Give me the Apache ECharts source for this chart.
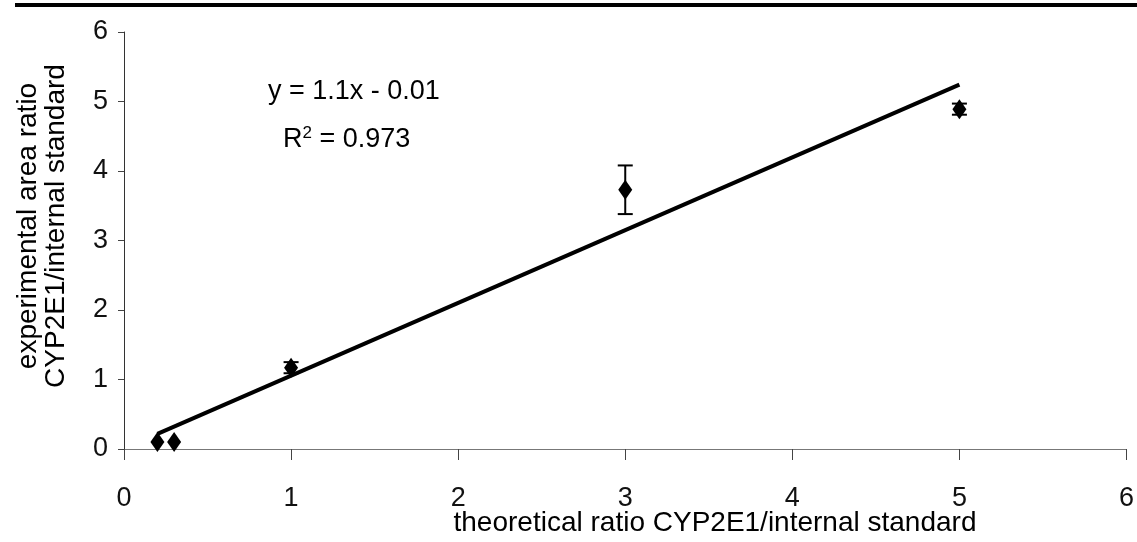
<!DOCTYPE html>
<html>
<head>
<meta charset="utf-8">
<script src="https://cdn.jsdelivr.net/npm/echarts@6/dist/echarts.min.js"></script>
<style>
  html, body { margin: 0; padding: 0; background: #fff; }
  #chart { width: 1137px; height: 542px; }
</style>
</head>
<body>
<div id="chart"></div>
<script>
// Theoretical vs. measured CYP2E1 / internal standard ratios
const theoretical = [0.2, 0.3, 1, 3, 5];
const measured = [0.10, 0.10, 1.17, 3.73, 4.89];
const errorHalf = [0, 0, 0.08, 0.35, 0.08];
const xTicks = [0, 1, 2, 3, 4, 5, 6];
const yTicks = [0, 1, 2, 3, 4, 5, 6];
const equationText = 'y = 1.1x - 0.01';
const r2Text = '0.973';
const xTitle = 'theoretical ratio CYP2E1/internal standard';
const yTitleLines = ['experimental area ratio', 'CYP2E1/internal standard'];

const FONT = '"Liberation Sans", Arial, sans-serif';

// least-squares fit used for the trendline
function linearFit(xs, ys) {
  const n = xs.length;
  const mx = xs.reduce((a, b) => a + b, 0) / n;
  const my = ys.reduce((a, b) => a + b, 0) / n;
  let sxy = 0, sxx = 0;
  for (let i = 0; i < n; i++) {
    sxy += (xs[i] - mx) * (ys[i] - my);
    sxx += (xs[i] - mx) * (xs[i] - mx);
  }
  const slope = sxy / sxx;
  return { slope, intercept: my - slope * mx };
}
const fit = linearFit(theoretical, measured);
const xMinData = Math.min(...theoretical);
const xMaxData = Math.max(...theoretical);
const trend = [
  [xMinData, fit.slope * xMinData + fit.intercept],
  [xMaxData, fit.slope * xMaxData + fit.intercept]
];

const points = theoretical.map((x, i) => [x, measured[i]]);
const bars = theoretical.map((x, i) => [x, measured[i] - errorHalf[i], measured[i] + errorHalf[i]]);

const chart = echarts.init(document.getElementById('chart'));
chart.setOption({
  animation: false,
  backgroundColor: '#fff',
  grid: { left: 124, right: 10, top: 32, bottom: 93 },
  xAxis: {
    type: 'value',
    min: xTicks[0], max: xTicks[xTicks.length - 1], interval: 1,
    splitLine: { show: false },
    axisLine: { show: true, onZero: false, lineStyle: { color: '#777', width: 1 } },
    axisTick: { show: true, length: 11, lineStyle: { color: '#444', width: 1 } },
    axisLabel: { fontFamily: FONT, fontSize: 27, color: '#111', margin: 36 }
  },
  yAxis: {
    type: 'value',
    min: yTicks[0], max: yTicks[yTicks.length - 1], interval: 1,
    splitLine: { show: false },
    axisLine: { show: true, onZero: false, lineStyle: { color: '#333', width: 1 } },
    axisTick: { show: true, length: 6, lineStyle: { color: '#444', width: 1 } },
    axisLabel: { fontFamily: FONT, fontSize: 27, color: '#111', margin: 16 }
  },
  series: [
    {
      type: 'line',
      data: trend,
      symbol: 'none',
      lineStyle: { color: '#000', width: 4 },
      z: 2
    },
    {
      type: 'custom',
      data: bars,
      z: 3,
      renderItem: function (params, api) {
        const x = api.value(0);
        const lo = api.coord([x, api.value(1)]);
        const hi = api.coord([x, api.value(2)]);
        const cap = 7.5;
        if (Math.abs(hi[1] - lo[1]) < 0.5) return null;
        const style = { stroke: '#000', lineWidth: 2 };
        return {
          type: 'group',
          children: [
            { type: 'line', shape: { x1: lo[0], y1: lo[1], x2: hi[0], y2: hi[1] }, style },
            { type: 'line', shape: { x1: lo[0] - cap, y1: lo[1], x2: lo[0] + cap, y2: lo[1] }, style },
            { type: 'line', shape: { x1: hi[0] - cap, y1: hi[1], x2: hi[0] + cap, y2: hi[1] }, style }
          ]
        };
      }
    },
    {
      type: 'scatter',
      data: points,
      symbol: 'diamond',
      symbolSize: [14, 20],
      itemStyle: { color: '#000', opacity: 1 },
      z: 4
    }
  ],
  graphic: [
    { type: 'rect', left: 15, top: 3, shape: { width: 1122, height: 4 }, style: { fill: '#000' } },
    {
      type: 'text', left: 268, top: 78,
      style: { text: equationText, font: '27px ' + FONT, fill: '#000' }
    },
    {
      type: 'text', left: 283, top: 125,
      style: {
        text: 'R{sup|2} = ' + r2Text,
        font: '27px ' + FONT, fill: '#000',
        rich: { sup: { fontSize: 17, fontFamily: FONT, verticalAlign: 'top', padding: [0, 0, 12, 0] } }
      }
    },
    {
      type: 'text', x: 715, y: 523,
      style: { text: xTitle, font: '28px ' + FONT, fill: '#000', align: 'center', verticalAlign: 'middle' }
    },
    {
      type: 'text', x: 42, y: 226, rotation: Math.PI / 2,
      style: {
        text: yTitleLines.join('\n'), font: '28px ' + FONT, fill: '#000',
        align: 'center', verticalAlign: 'middle', lineHeight: 28
      }
    }
  ]
});
</script>
</body>
</html>
